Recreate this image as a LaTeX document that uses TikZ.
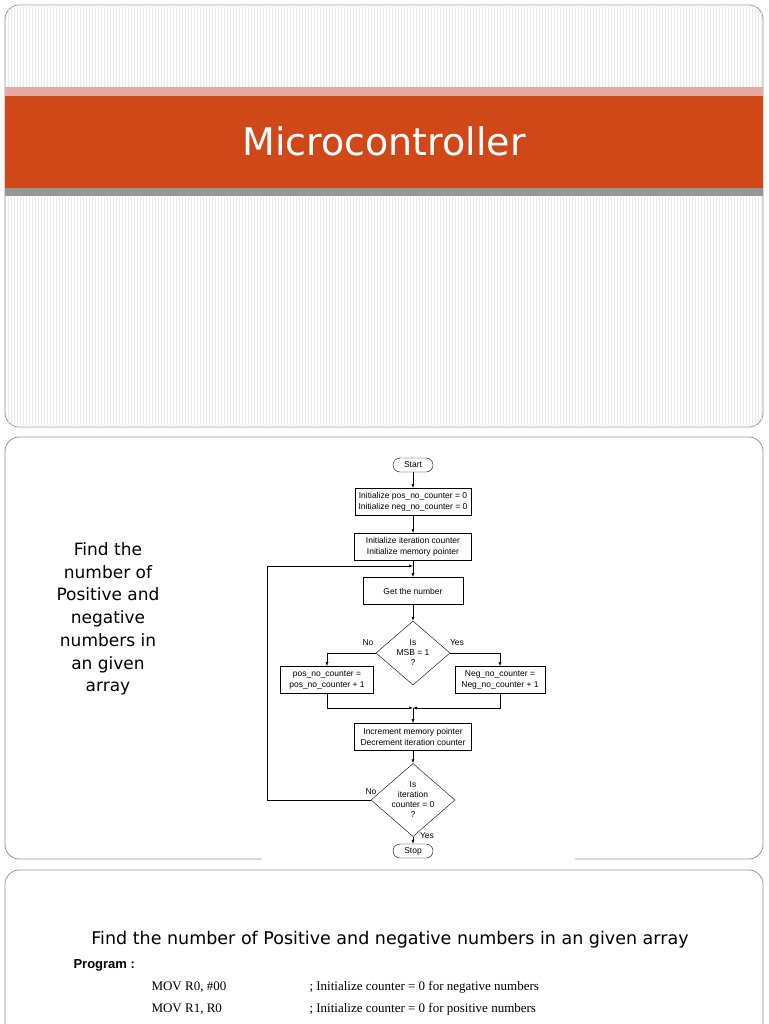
\documentclass[tikz,border=0pt]{standalone}
\usepackage{fontspec}
\setmainfont{DejaVu Sans}
\newfontfamily\flowfont{Liberation Sans}
\newfontfamily\codefont{Liberation Serif}
\usetikzlibrary{shapes.geometric,arrows.meta}
\definecolor{bandred}{RGB}{208,72,24}
\definecolor{bandpink}{RGB}{232,170,160}
\definecolor{panelgray}{RGB}{150,150,150}
\tikzset{
  panel/.style={draw=panelgray, line width=0.8pt, rounded corners=14pt, fill=white},
  proc/.style={draw, line width=0.9pt, minimum height=27pt, align=center, font=\flowfont\fontsize{8.5}{10.5}\selectfont},
  term/.style={draw, rounded corners=7pt, minimum width=40pt, minimum height=14pt, inner sep=1pt, font=\flowfont\fontsize{8.5}{10}\selectfont},
  dec/.style={draw, diamond, aspect=1.15, inner sep=0pt, minimum width=74pt, minimum height=64pt, align=center, font=\flowfont\fontsize{8.5}{10}\selectfont},
  flow/.style={-{Latex[length=4pt,width=3pt]}, line width=0.6pt},
  lbl/.style={font=\flowfont\fontsize{8.5}{10}\selectfont}
}
\begin{document}
\begin{tikzpicture}[x=1pt,y=-1pt]
\useasboundingbox (0,0) rectangle (768,1024);
\fill[white] (0,0) rectangle (768,1024);
% top slide
\draw[panel] (5,5) rectangle (763,427);
\begin{scope}
\clip[rounded corners=14pt] (5,5) rectangle (763,427);
\foreach \x in {8,11,...,762} \draw[black!8, line width=0.5pt] (\x,5) -- (\x,427);
\end{scope}
\fill[bandpink] (5,87) rectangle (763,98);
\fill[panelgray] (5,186) rectangle (763,196);
\fill[bandred] (5,96) rectangle (763,188);
\node[text=white, font=\fontsize{38}{44}\selectfont] (title) at (384,141) {Microcontroller};
% middle slide
\draw[panel] (5,437) rectangle (763,859);
\fill[white] (262,852) rectangle (575,866);
\node[align=center, font=\fontsize{17}{22.7}\selectfont] (task) at (108,619)
  {Find the\\number of\\Positive and\\negative\\numbers in\\an given\\array};
% flowchart
\node[term] (start) at (413,465) {Start};
\node[proc, minimum width=116pt] (init1) at (413,502) {Initialize pos\_no\_counter = 0\\Initialize neg\_no\_counter = 0};
\node[proc, minimum width=117pt] (init2) at (413,547) {Initialize iteration counter\\Initialize memory pointer};
\node[proc, minimum width=100pt] (get) at (413,591) {Get the number};
\node[dec] (msb) at (413,653) {Is\\MSB = 1\\?};
\node[proc, line width=0.6pt, minimum width=93pt] (pos) at (327,680) {pos\_no\_counter =\\pos\_no\_counter + 1};
\node[proc, line width=0.6pt, minimum width=90pt] (neg) at (500,680) {Neg\_no\_counter =\\Neg\_no\_counter + 1};
\node[proc, minimum width=117pt] (inc) at (413,737) {Increment memory pointer\\Decrement iteration counter};
\node[dec, minimum height=66pt] (iter) at (413,800) {Is\\iteration\\counter = 0\\?};
\node[term] (stop) at (413,851) {Stop};
\coordinate (loop) at (413,566);
\coordinate (merge) at (413,708);
\draw[flow] (start) -- (init1);
\draw[flow] (init1) -- (init2);
\draw[flow] (init2) -- (get);
\draw[flow] (get) -- (msb);
\draw[flow] (msb.west) -| (pos.north);
\draw[flow] (msb.east) -| (neg.north);
\draw[flow] (pos.south) |- (merge);
\draw[flow] (neg.south) |- (merge);
\draw[flow] (merge) -- (inc);
\draw[flow] (inc) -- (iter);
\draw[flow] (iter) -- (stop);
\draw[flow] (iter.west) -- (267,800) -- (267,566) -- (loop);
\node[lbl] (no1) at (368,643) {No};
\node[lbl] (yes1) at (457,643) {Yes};
\node[lbl] (no2) at (371,792) {No};
\node[lbl] (yes2) at (427,836) {Yes};
% bottom slide
\draw[panel] (5,870) rectangle (763,1040);
\node[font=\fontsize{17.5}{20}\selectfont] (ptitle) at (390,940) {Find the number of Positive and negative numbers in an given array};
\node[anchor=west, font=\flowfont\bfseries\fontsize{13}{15}\selectfont] (prog) at (70,965) {Program :};
\node[anchor=west, font=\codefont\fontsize{13}{15}\selectfont] (c1) at (148,987) {MOV R0, \#00};
\node[anchor=west, font=\codefont\fontsize{13}{15}\selectfont] (m1) at (306,987) {; Initialize counter = 0 for negative numbers};
\node[anchor=west, font=\codefont\fontsize{13}{15}\selectfont] (c2) at (148,1009) {MOV R1, R0};
\node[anchor=west, font=\codefont\fontsize{13}{15}\selectfont] (m2) at (306,1009) {; Initialize counter = 0 for positive numbers};
\end{tikzpicture}
\end{document}
